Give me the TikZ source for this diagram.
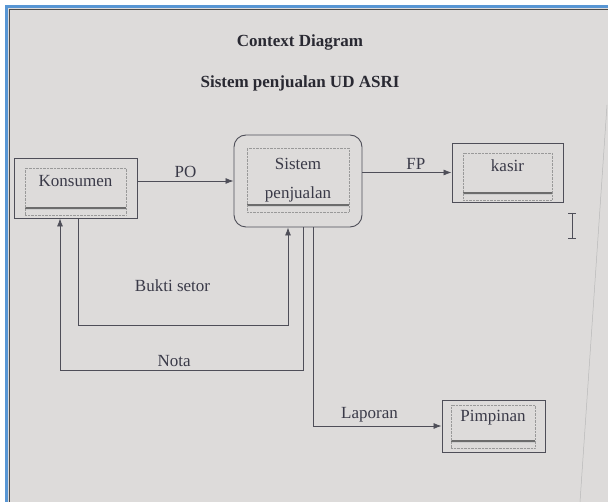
\documentclass[tikz,border=0pt]{standalone}
\usepackage{fontspec}
\setmainfont{Liberation Serif}
\usetikzlibrary{arrows.meta}
\definecolor{latar}{RGB}{221,219,218}
\definecolor{garis}{RGB}{78,78,88}
\definecolor{tinta}{RGB}{58,58,72}
\definecolor{biru}{RGB}{88,150,212}
\newcommand{\isifont}{\fontsize{17}{29}\selectfont}
\newcommand{\judulfont}{\bfseries\fontsize{17}{20}\selectfont}
\tikzset{
  luar/.style={draw=garis,line width=0.9pt},
  bingkaidasar/.style={draw=gray!80,densely dotted,inner sep=0pt,font=\isifont,text=tinta,align=center,
    path picture={\draw[solid,gray!85!black,line width=1.2pt,double=gray!40,double distance=0.6pt] ([yshift=6pt]path picture bounding box.south west)--([yshift=6pt]path picture bounding box.south east);}},
  bingkai/.style={bingkaidasar,text height=12pt,text depth=21pt},
  alir/.style={draw=garis,line width=0.8pt,-{Latex[length=8pt,width=6pt]}},
  ket/.style={font=\isifont,text=tinta,inner sep=3pt}
}
\begin{document}
\begin{tikzpicture}[x=1pt,y=-1pt]
\useasboundingbox (0,0) rectangle (608,502);
% layar
\fill[white] (0,0) rectangle (608,502);
\fill[latar] (8,8) rectangle (608,502);
\draw[biru,line width=2.5pt] (6.5,502)--(6.5,6.5)--(608,6.5);
\draw[black!70,line width=0.8pt] (9.5,502)--(9.5,9.5)--(608,9.5);
\draw[gray!55,line width=0.5pt] (607,105)--(580,502);
% judul
\node[font=\judulfont,text=tinta!70!black] (judul) at (300,42) {Context Diagram};
\node[font=\judulfont,text=tinta!70!black] (subjudul) at (300,83) {Sistem penjualan UD ASRI};
% entitas dan proses
\node[luar,minimum width=123pt,minimum height=60pt] (konsumen) at (75.5,188) {};
\node[bingkai,minimum width=101pt,minimum height=47pt] (konsumen_in) at (75.5,191.5) {Konsumen};
\node[luar,rounded corners=12pt,minimum width=128pt,minimum height=92pt] (sistem) at (298,181) {};
\node[bingkaidasar,minimum width=102pt,minimum height=64pt] (sistem_in) at (298,180) {Sistem\\penjualan};
\node[luar,minimum width=111pt,minimum height=59pt] (kasir) at (507.5,172.5) {};
\node[bingkai,minimum width=89pt,minimum height=47pt] (kasir_in) at (507.5,176.5) {kasir};
\node[luar,minimum width=103pt,minimum height=52pt] (pimpinan) at (493.5,426) {};
\node[bingkai,minimum width=84pt,minimum height=43pt] (pimpinan_in) at (493,426.5) {Pimpinan};
% titik bantu
\coordinate (bs) at (78,325);
\coordinate (nt) at (60,370);
\coordinate (sistemkiri) at ([xshift=-10pt]sistem.south);
\coordinate (sistemtengah) at ([xshift=5pt]sistem.south);
\coordinate (sistemkanan) at ([xshift=15pt]sistem.south);
% aliran data
\draw[alir] (sistem.west -| konsumen.east)--node[ket,above]{PO}(sistem.west);
\draw[alir] (kasir.west -| sistem.east)--node[ket,above,pos=0.6]{FP}(kasir.west);
\draw[alir] (konsumen.south -| bs)--(bs)--node[ket,above=30pt,pos=0.45]{Bukti setor}(bs -| sistemkiri)--(sistemkiri);
\draw[alir] (sistemtengah)--(sistemtengah |- nt)--node[ket,above,pos=0.53]{Nota}(nt)--(konsumen.south -| nt);
\draw[alir] (sistemkanan)|-node[ket,above,pos=0.72]{Laporan}(pimpinan.west);
% kursor
\draw[garis,line width=0.8pt] (572,213)--(572,238) (568,213)--(576,213) (568,238)--(576,238);
\end{tikzpicture}
\end{document}
